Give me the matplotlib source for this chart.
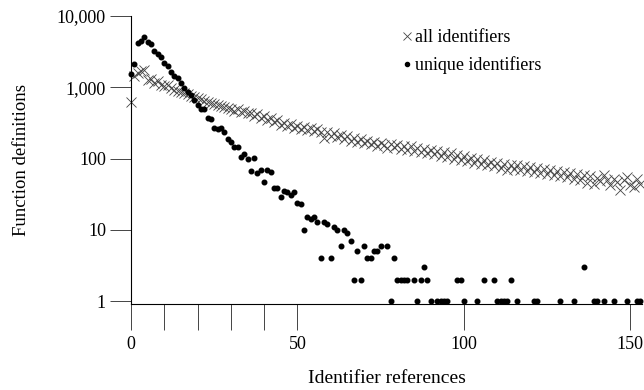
# Function definitions vs. identifier references (log scale)

import numpy as np
import matplotlib.pyplot as plt

# all identifiers, x = 0..153
all_ids = [620, 1450, 1560, 1680, 1750, 1260, 1290, 1140, 1210, 1070,
           1040, 1080, 970, 930, 890, 860, 820, 800, 760, 740,
           700, 680, 650, 630, 610, 590, 560, 545, 530, 510,
           500, 470, 490, 450, 470, 430, 430, 395, 415, 370,
           390, 350, 365, 325, 345, 300, 320, 285, 305, 270,
           290, 262, 280, 250, 268, 240, 258, 235, 195, 238,
           210, 225, 200, 215, 185, 205, 178, 195, 172, 185,
           165, 178, 158, 170, 150, 165, 155, 140, 160, 145,
           155, 135, 150, 130, 148, 128, 140, 125, 138, 120,
           132, 115, 128, 110, 125, 105, 118, 100, 112, 96,
           108, 92, 102, 86, 98, 84, 94, 80, 90, 78,
           86, 74, 84, 70, 82, 72, 80, 68, 78, 66,
           76, 64, 74, 62, 72, 60, 70, 58, 66, 56,
           64, 55, 62, 52, 60, 50, 58, 46, 56, 44,
           54, 48, 58, 50, 42, 52, 47, 36, 50, 55,
           43, 40, 52, 44]

# unique identifiers (only non-zero counts shown)
uniq_x = [0, 1, 2, 3, 4, 5, 6, 7, 8, 9,
          10, 11, 12, 13, 14, 15, 16, 17, 18, 19,
          20, 21, 22, 23, 24, 25, 26, 27, 28, 29,
          30, 31, 32, 33, 34, 35, 36, 37, 38, 39,
          40, 41, 42, 43, 44, 45, 46, 47, 48, 49,
          50, 51, 52, 53, 54, 55, 56, 57, 58, 59,
          60, 61, 62, 63, 64, 65, 66, 67, 68, 69,
          70, 71, 72, 73, 74, 75, 77, 78, 79, 80,
          81, 82, 83, 85, 86, 87, 88, 89, 90, 92,
          93, 94, 95, 98, 99, 100, 104, 106, 109, 110,
          111, 112, 113, 114, 116, 121, 122, 129, 133, 136,
          139, 140, 142, 145, 149, 152, 153]
uniq_y = [1550, 2100, 4150, 4500, 5100, 4250, 4050, 3270, 2900, 2700,
          2170, 1990, 1660, 1420, 1340, 1150, 980, 870, 790, 670,
          570, 500, 490, 370, 360, 265, 262, 270, 235, 185,
          168, 145, 144, 106, 116, 98, 66, 102, 62, 68,
          47, 70, 65, 38, 38, 29, 35, 34, 31, 34,
          24, 23, 10, 15, 14, 15, 13, 4, 13, 12,
          4, 11, 10, 6, 10, 9, 7, 2, 5, 2,
          6, 4, 4, 5, 5, 6, 6, 1, 4, 2,
          2, 2, 2, 2, 1, 2, 3, 2, 1, 1,
          1, 1, 1, 2, 2, 1, 1, 2, 2, 1,
          1, 1, 1, 2, 1, 1, 1, 1, 1, 3,
          1, 1, 1, 1, 1, 1, 1]

x_ticks = [0, 10, 20, 30, 40, 50, 100, 150]
x_labels = ['0', '', '', '', '', '50', '100', '150']
y_ticks = [1, 10, 100, 1000, 10000]
y_labels = ['1', '10', '100', '1,000', '10,000']

plt.rcParams['font.family'] = ['Liberation Serif', 'DejaVu Serif']

fig = plt.figure(figsize=(6.44, 3.9), dpi=100)
ax = fig.add_axes([0.2034, 0.2205, 0.7935, 0.7385])

ax.plot(np.arange(len(all_ids)), all_ids, linestyle='none', marker='x',
        markersize=6.5, markeredgewidth=0.6, color='#444444',
        label='all identifiers', clip_on=False)
ax.plot(uniq_x, uniq_y, linestyle='none', marker='o', markersize=3.3,
        color='black', label='unique identifiers', clip_on=False)

ax.set_yscale('log')
ax.set_xlim(0, 153.5)
ax.set_ylim(0.91, 10000)

ax.set_xticks(x_ticks)
ax.set_xticklabels(x_labels)
ax.set_yticks(y_ticks)
ax.set_yticklabels(y_labels)
ax.minorticks_off()

ax.tick_params(axis='x', direction='out', length=19, width=0.7,
               color='#444444', pad=4, labelsize=13)
ax.tick_params(axis='y', direction='out', length=15, width=0.7,
               color='#444444', pad=3, labelsize=13)

for side in ['top', 'right']:
    ax.spines[side].set_visible(False)
for side in ['left', 'bottom']:
    ax.spines[side].set_linewidth(0.8)

ax.set_xlabel('Identifier references', fontsize=14, labelpad=12)
ax.set_ylabel('Function definitions', fontsize=13.5, labelpad=19)

ax.legend(loc='upper left', bbox_to_anchor=(0.515, 0.985), frameon=False,
          handlelength=0.4, handletextpad=0.25, labelspacing=0.55,
          borderpad=0, fontsize=13, markerscale=0.9)

fig.savefig('out.png', dpi=100)
